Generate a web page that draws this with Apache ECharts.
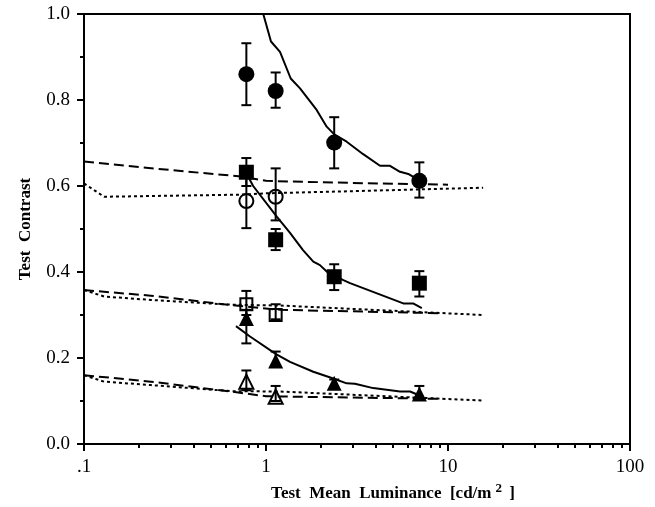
<!DOCTYPE html>
<html>
<head>
<meta charset="utf-8">
<script src="https://cdn.jsdelivr.net/npm/echarts@6/dist/echarts.min.js"></script>
<style>
  html, body { margin: 0; padding: 0; background: #fff; }
  #chart { width: 655px; height: 507px; }
</style>
</head>
<body>
<div id="chart"></div>
<script>
// Test luminances (cd/m^2) at which thresholds were measured
const luminance = [0.78, 1.13, 2.37, 6.96];
const luminanceOpen = [0.78, 1.13];

// Measured thresholds with error bar limits
const filledCircle = [0.860, 0.821, 0.701, 0.612];
const filledCircleLo = [0.788, 0.782, 0.641, 0.573];
const filledCircleHi = [0.932, 0.864, 0.760, 0.655];

const filledSquare = [0.632, 0.475, 0.389, 0.374];
const filledSquareLo = [0.600, 0.451, 0.358, 0.343];
const filledSquareHi = [0.665, 0.500, 0.418, 0.402];

const openCircle = [0.565, 0.575];
const openCircleLo = [0.502, 0.520];
const openCircleHi = [0.620, 0.641];

const openSquare = [0.325, 0.300];
const openSquareLo = [0.300, 0.290];
const openSquareHi = [0.356, 0.325];

const filledTriangle = [0.292, 0.193, 0.141, 0.116];
const filledTriangleLo = [0.234, 0.180, 0.130, 0.105];
const filledTriangleHi = [0.312, 0.215, 0.150, 0.135];

const openTriangle = [0.145, 0.110];
const openTriangleLo = [0.125, 0.100];
const openTriangleHi = [0.171, 0.135];

// Model predictions (solid curves): [luminance, contrast]
const modelHigh = [[0.966, 1.0], [1.065, 0.936], [1.194, 0.912], [1.367, 0.850], [1.538, 0.827],
  [1.898, 0.777], [2.155, 0.738], [2.37, 0.720], [2.775, 0.703], [3.42, 0.674], [4.23, 0.647],
  [4.80, 0.647], [5.45, 0.633], [6.05, 0.628], [6.87, 0.614]];
const modelMid = [[0.77, 0.634], [0.85, 0.600], [1.149, 0.528], [1.355, 0.491], [1.597, 0.451],
  [1.819, 0.424], [1.979, 0.416], [2.155, 0.401], [2.66, 0.381], [2.895, 0.374], [5.68, 0.327],
  [6.43, 0.327], [7.18, 0.316]];
const modelLow = [[0.684, 0.274], [0.817, 0.250], [1.135, 0.209], [1.355, 0.191], [1.819, 0.168],
  [2.32, 0.153], [2.775, 0.141], [3.08, 0.140], [3.88, 0.130], [5.45, 0.122], [6.19, 0.122],
  [6.87, 0.114]];

// Reference predictions (dashed and dotted curves)
const dashedHigh = [[0.1, 0.657], [0.3, 0.637], [0.73, 0.622], [1.0, 0.612], [3.0, 0.607], [10.0, 0.603]];
const dottedHigh = [[0.1, 0.606], [0.129, 0.575], [0.75, 0.580], [1.0, 0.583], [3.0, 0.588], [15.6, 0.596]];
const dashedMid = [[0.1, 0.358], [0.233, 0.345], [0.64, 0.323], [1.2, 0.312], [9.4, 0.304]];
const dottedMid = [[0.1, 0.358], [0.129, 0.343], [0.233, 0.335], [0.64, 0.324], [1.2, 0.322], [15.6, 0.300]];
const dashedLow = [[0.1, 0.160], [0.233, 0.145], [0.64, 0.122], [1.0, 0.111], [9.4, 0.105]];
const dottedLow = [[0.1, 0.160], [0.129, 0.145], [0.233, 0.137], [0.64, 0.123], [1.2, 0.122], [15.6, 0.101]];

// Axis ticks
const xMajorTicks = [0.1, 1, 10, 100];
const xMinorTicks = [0.2, 0.3, 0.4, 0.5, 0.6, 0.7, 0.8, 0.9, 2, 3, 4, 5, 6, 7, 8, 9,
  20, 30, 40, 50, 60, 70, 80, 90];

const SERIF = '"Liberation Serif", "Times New Roman", serif';

function zip(xs, ys) { return xs.map((x, i) => [x, ys[i]]); }
function errData(xs, lo, hi) { return xs.map((x, i) => [x, lo[i], hi[i]]); }

function errorBars(data) {
  return {
    type: 'custom',
    xAxisIndex: 0, yAxisIndex: 0,
    data: data,
    z: 3,
    renderItem: function (params, api) {
      const x = api.value(0);
      const top = api.coord([x, api.value(2)]);
      const bot = api.coord([x, api.value(1)]);
      const hw = 5;
      const st = { stroke: '#000', lineWidth: 2 };
      return {
        type: 'group',
        children: [
          { type: 'line', shape: { x1: top[0], y1: top[1], x2: bot[0], y2: bot[1] }, style: st },
          { type: 'line', shape: { x1: top[0] - hw, y1: top[1], x2: top[0] + hw, y2: top[1] }, style: st },
          { type: 'line', shape: { x1: bot[0] - hw, y1: bot[1], x2: bot[0] + hw, y2: bot[1] }, style: st }
        ]
      };
    }
  };
}

function markers(data, symbol, size, open) {
  return {
    type: 'scatter',
    xAxisIndex: 0, yAxisIndex: 0,
    data: data,
    symbol: symbol,
    symbolSize: size,
    z: open ? 5 : 4,
    itemStyle: open
      ? { color: 'rgba(0,0,0,0)', borderColor: '#000', borderWidth: 2, opacity: 1 }
      : { color: '#000', borderWidth: 0, opacity: 1 },
    emphasis: { disabled: true }
  };
}

function curve(data, type) {
  return {
    type: 'line',
    xAxisIndex: 0, yAxisIndex: 0,
    data: data,
    showSymbol: false,
    symbol: 'none',
    z: 2,
    lineStyle: { color: '#000', width: 2, type: type },
    emphasis: { disabled: true }
  };
}

const chart = echarts.init(document.getElementById('chart'), null, { renderer: 'canvas' });

chart.setOption({
  animation: false,
  backgroundColor: '#fff',
  grid: {
    left: 84, right: 25, top: 14, bottom: 63,
    show: true, borderColor: '#000', borderWidth: 2,
    outerBoundsMode: 'none'
  },
  xAxis: [
    {
      type: 'log', logBase: 10, min: 0.1, max: 100,
      position: 'bottom',
      name: 'Test  Mean  Luminance  [cd/m{sup|2} ]',
      nameLocation: 'middle',
      nameGap: 37,
      nameTextStyle: {
        fontFamily: SERIF, fontWeight: 'bold', fontSize: 17, color: '#000',
        lineHeight: 24,
        padding: [0, 0, 0, 72],
        rich: {
          sup: { fontFamily: SERIF, fontWeight: 'bold', fontSize: 13, color: '#000',
                 lineHeight: 14, verticalAlign: 'top', padding: [0, 3, 0, 4] }
        }
      },
      axisLine: { show: true, lineStyle: { color: '#000', width: 2 } },
      axisTick: { show: true, inside: false, length: 7, lineStyle: { color: '#000', width: 2 },
                  customValues: xMajorTicks },
      axisLabel: {
        show: true, margin: 14, color: '#000', fontFamily: SERIF, fontSize: 19,
        customValues: xMajorTicks,
        formatter: v => (v < 1 ? '.' + String(Math.round(v * 10)) : String(Math.round(v)))
      },
      splitLine: { show: false }
    },
    {
      type: 'log', logBase: 10, min: 0.1, max: 100,
      position: 'bottom',
      axisLine: { show: false },
      axisTick: { show: true, inside: false, length: 4, lineStyle: { color: '#000', width: 2 },
                  customValues: xMinorTicks },
      axisLabel: { show: false },
      splitLine: { show: false }
    }
  ],
  yAxis: [
    {
      type: 'value', min: 0, max: 1, interval: 0.2,
      name: 'Test  Contrast',
      nameLocation: 'middle',
      nameGap: 50,
      nameTextStyle: { fontFamily: SERIF, fontWeight: 'bold', fontSize: 17, color: '#000' },
      axisLine: { show: true, lineStyle: { color: '#000', width: 2 } },
      axisTick: { show: true, inside: false, length: 7, lineStyle: { color: '#000', width: 2 } },
      minorTick: { show: true, splitNumber: 2, length: 4, lineStyle: { color: '#000', width: 2 } },
      axisLabel: { margin: 14, color: '#000', fontFamily: SERIF, fontSize: 19,
                   formatter: v => v.toFixed(1) },
      splitLine: { show: false }
    }
  ],
  series: [
    curve(dashedHigh, [10, 5]),
    curve(dottedHigh, [3, 3]),
    curve(dashedMid, [10, 5]),
    curve(dottedMid, [3, 3]),
    curve(dashedLow, [10, 5]),
    curve(dottedLow, [3, 3]),
    curve(modelHigh, 'solid'),
    curve(modelMid, 'solid'),
    curve(modelLow, 'solid'),
    errorBars(errData(luminance, filledCircleLo, filledCircleHi)),
    errorBars(errData(luminance, filledSquareLo, filledSquareHi)),
    errorBars(errData(luminanceOpen, openCircleLo, openCircleHi)),
    errorBars(errData(luminanceOpen, openSquareLo, openSquareHi)),
    errorBars(errData(luminance, filledTriangleLo, filledTriangleHi)),
    errorBars(errData(luminanceOpen, openTriangleLo, openTriangleHi)),
    markers(zip(luminance, filledCircle), 'circle', 16, false),
    markers(zip(luminance, filledSquare), 'rect', 15, false),
    markers(zip(luminanceOpen, openCircle), 'circle', 14, true),
    markers(zip(luminanceOpen, openSquare), 'rect', 12, true),
    markers(zip(luminance, filledTriangle), 'triangle', 15, false),
    markers(zip(luminanceOpen, openTriangle), 'triangle', 14, true)
  ]
});
</script>
</body>
</html>
